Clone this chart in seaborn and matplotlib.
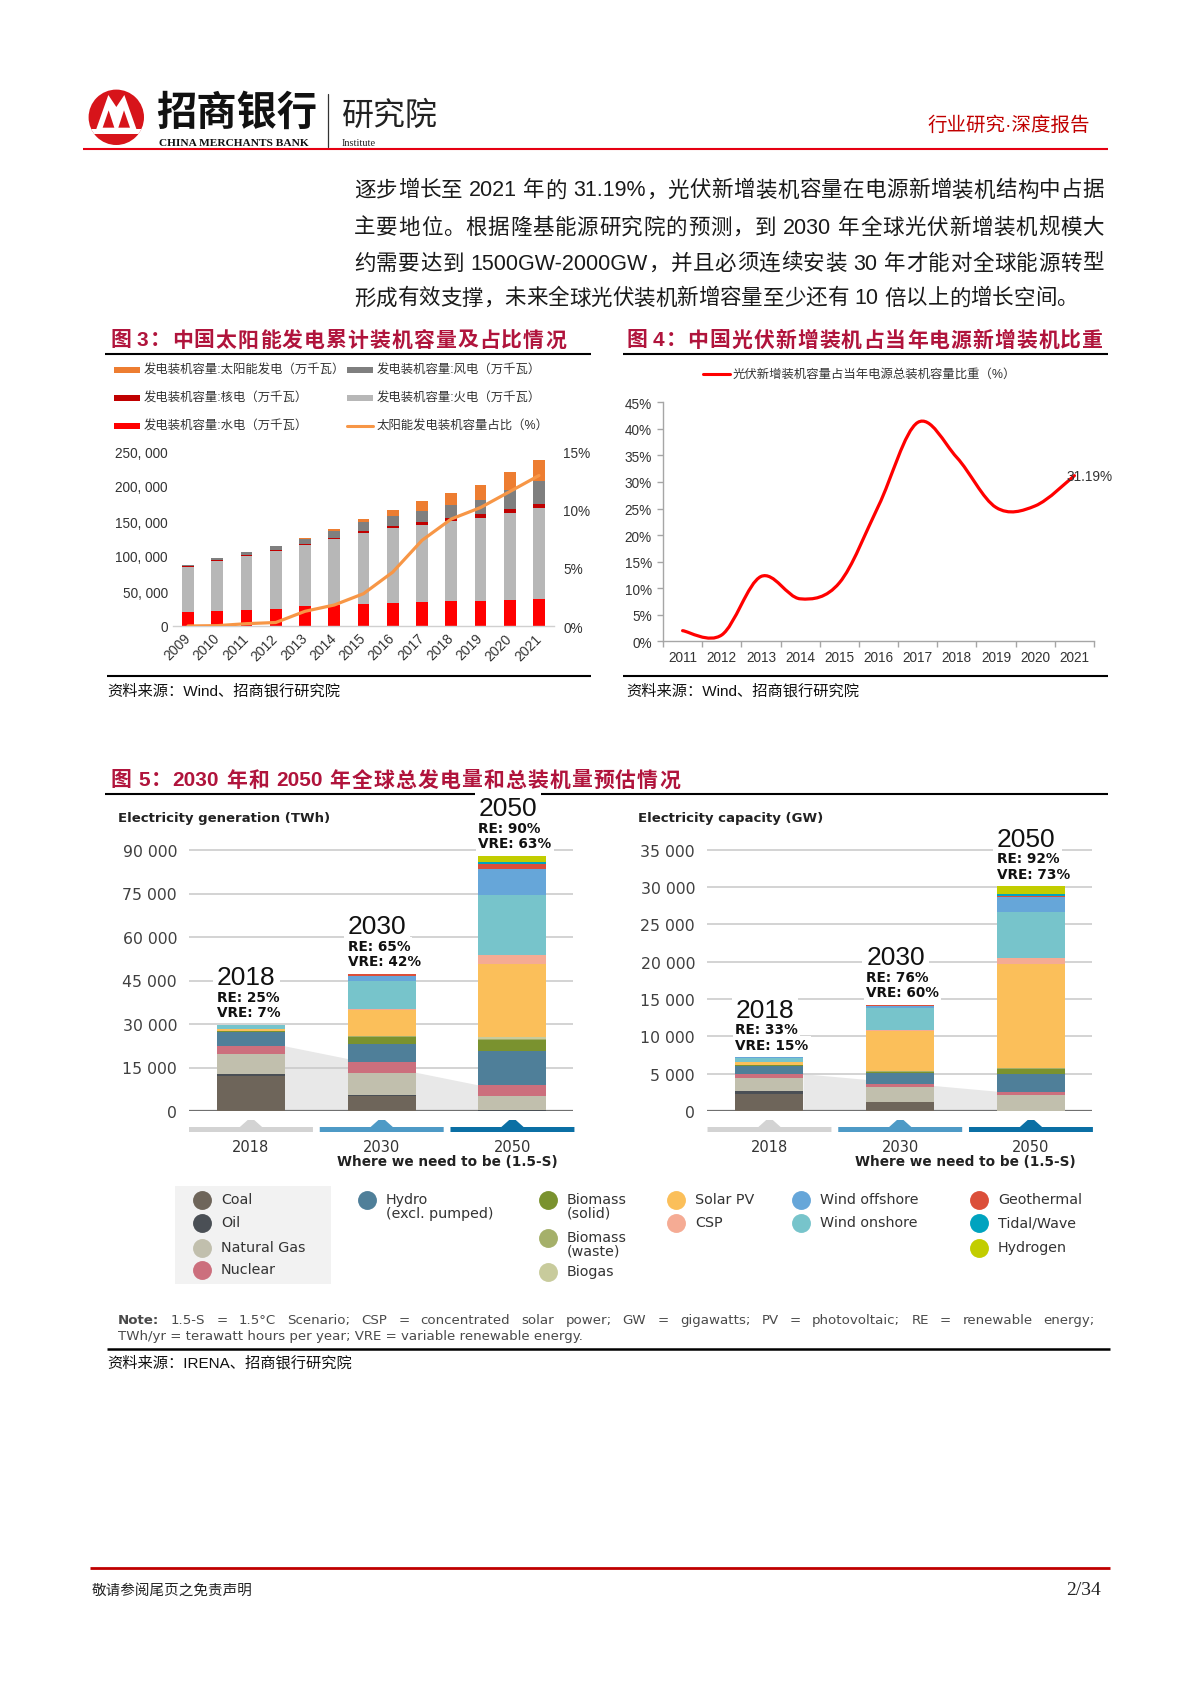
import numpy as np
import matplotlib
matplotlib.use("Agg")
import matplotlib.pyplot as plt
import seaborn as sns
from matplotlib.path import Path
from matplotlib.patches import PathPatch, Polygon, Circle, Rectangle
from matplotlib.transforms import blended_transform_factory

# ---------------- data: figure 3 (万千瓦, %) ----------------
years3 = [str(y) for y in range(2009, 2022)]
hydro3 = [19629, 21606, 23298, 24947, 28044, 30486, 31954, 33207, 34411, 35259, 35804, 37016, 39092]
thermal3 = [65108, 70967, 76834, 81968, 87009, 93232, 100554, 106094, 110495, 114408, 119055, 124517, 129678]
nuclear3 = [908, 1082, 1257, 1257, 1466, 2008, 2717, 3364, 3582, 4466, 4874, 4989, 5326]
wind3 = [1760, 2958, 4623, 6142, 7652, 9657, 13075, 14747, 16400, 18427, 20915, 28153, 32848]
solar3 = [3, 26, 212, 341, 1589, 2486, 4218, 7631, 13042, 17433, 20418, 25343, 30656]
share3 = [0.003, 0.03, 0.2, 0.3, 1.26, 1.8, 2.77, 4.62, 7.34, 9.17, 10.15, 11.52, 12.9]

# ---------------- data: figure 4 (%) ----------------
years4 = [str(y) for y in range(2011, 2022)]
share4 = [2.0, 1.2, 12.2, 8.0, 11.0, 25.5, 41.2, 34.6, 25.2, 25.5, 31.19]

# ---------------- data: figure 5 ----------------
years5 = ["2018", "2030", "2050"]
sources5 = ["Coal", "Oil", "Natural Gas", "Nuclear", "Hydro", "Biomass (solid)", "Biomass (waste)",
            "Biogas", "Solar PV", "CSP", "Wind onshore", "Wind offshore", "Geothermal",
            "Tidal/Wave", "Hydrogen"]
gen_2018 = [11950, 920, 6670, 2760, 4940, 300, 30, 20, 640, 15, 1260, 70, 90, 5, 0]
gen_2030 = [5200, 200, 7700, 3800, 6320, 2300, 200, 140, 9080, 350, 9540, 1610, 800, 60, 0]
gen_2050 = [0, 250, 4810, 3790, 11730, 3800, 600, 540, 25310, 2990, 20580, 8970, 1730, 690, 2180]
cap_2018 = [2250, 450, 1780, 450, 1120, 100, 20, 20, 420, 10, 540, 25, 15, 0, 0]
cap_2030 = [1150, 60, 2010, 350, 1520, 170, 35, 25, 5400, 90, 3040, 180, 180, 0, 0]
cap_2050 = [0, 30, 2070, 490, 2410, 590, 120, 100, 13850, 890, 6080, 2050, 180, 270, 980]
re_gen = ["RE: 25%", "RE: 65%", "RE: 90%"]
vre_gen = ["VRE: 7%", "VRE: 42%", "VRE: 63%"]
re_cap = ["RE: 33%", "RE: 76%", "RE: 92%"]
vre_cap = ["VRE: 15%", "VRE: 60%", "VRE: 73%"]
gen_ticks = [0, 15000, 30000, 45000, 60000, 75000, 90000]
cap_ticks = [0, 5000, 10000, 15000, 20000, 25000, 30000, 35000]

colors5 = ["#6e655a", "#4a4f55", "#c1bfad", "#cc6f7d", "#4f7f99", "#7a922f", "#a5b06a",
           "#c8cb9c", "#fbbf5a", "#f5ab94", "#77c4cb", "#66a6d9", "#db4f3a", "#00a3bf", "#c2cd00"]

body_lines = [
    "逐步增长至 2021 年的 31.19%，光伏新增装机容量在电源新增装机结构中占据",
    "主要地位。根据隆基能源研究院的预测，到 2030 年全球光伏新增装机规模大",
    "约需要达到 1500GW-2000GW，并且必须连续安装 30 年才能对全球能源转型",
    "形成有效支撑，未来全球光伏装机新增容量至少还有 10 倍以上的增长空间。",
]

# ---------------- page setup ----------------
sns.set_theme(style="white")
plt.rcParams["font.family"] = ["Liberation Sans", "Noto Sans CJK SC", "DejaVu Sans"]
plt.rcParams["axes.unicode_minus"] = False

W, H = 1189, 1683
fig = plt.figure(figsize=(W / 100, H / 100), dpi=100)
fig.patch.set_facecolor("white")

# overlay in pixel coordinates (y downwards) for page furniture
ov = fig.add_axes([0, 0, 1, 1])
ov.set_xlim(0, W)
ov.set_ylim(H, 0)
ov.axis("off")

renderer = fig.canvas.get_renderer()
TITLE_RED = "#b0143c"


def axes_px(x0, y0, x1, y1):
    a = fig.add_axes([x0 / W, 1 - y1 / H, (x1 - x0) / W, (y1 - y0) / H])
    a.set_facecolor("none")
    return a


def hline(x0, x1, y, color="black", lw=1.4):
    ov.plot([x0, x1], [y, y], color=color, lw=lw, solid_capstyle="butt")


def split_tokens(line):
    toks, buf, space = [], "", False
    for ch in line:
        if ch == " ":
            if buf:
                toks.append((buf, space))
                buf = ""
            space = True
        elif ord(ch) > 0x2E80:
            if buf:
                toks.append((buf, space))
                buf = ""
                space = False
            toks.append((ch, space))
            space = False
        else:
            buf += ch
    if buf:
        toks.append((buf, space))
    return toks


def place_line(line, x0, y, x1=None, space_px=6, bold=(), weight="normal", **kw):
    toks = split_tokens(line)
    arts, widths = [], []
    for t, _ in toks:
        a = ov.text(x0, y, t, ha="left", va="center",
                    fontweight="bold" if t in bold else weight, **kw)
        arts.append(a)
        widths.append(a.get_window_extent(renderer).width)
    n_sp = sum(1 for _, s in toks if s)
    natural = sum(widths) + n_sp * space_px
    gap = 0 if x1 is None or len(toks) < 2 else max(0, (x1 - x0 - natural) / (len(toks) - 1))
    x = x0
    for (t, s), a, w in zip(toks, arts, widths):
        if s:
            x += space_px
        a.set_x(x)
        x += w + gap


# ---------------- header ----------------
logo = Circle((116.3, 118.3), 27.7, fc="#d7141a", ec="none")
ov.add_patch(logo)
def lz(pts):
    return [(84 + px / 3, 86 + py / 3) for px, py in pts]
ov.add_patch(Polygon(lz([(34, 140), (73, 30), (97, 66), (121, 30), (160, 140)]), fc="white", ec="none"))
ov.add_patch(Polygon(lz([(56, 128), (74, 76), (91, 128)]), fc="#d7141a", ec="none"))
ov.add_patch(Polygon(lz([(103, 128), (120, 76), (138, 128)]), fc="#d7141a", ec="none"))
band = Rectangle((84, 86 + 132 / 3), 70, 4.5, fc="white", ec="none")
ov.add_patch(band)
band.set_clip_path(logo)

ov.text(156, 113, "招商银行", fontsize=29, fontweight="bold", color="#111111",
        family="Noto Sans CJK SC", ha="left", va="center")
ov.text(159, 143, "CHINA MERCHANTS BANK", fontsize=8.2, fontweight="bold", color="#111111",
        family="Liberation Serif", ha="left", va="center")
ov.plot([328, 328], [95, 148], color="#333333", lw=0.9)
ov.text(342, 116, "研究院", fontsize=23, color="#222222", family="Noto Sans CJK SC",
        ha="left", va="center")
ov.text(342, 143, "Institute", fontsize=7.5, color="#222222", family="Liberation Serif",
        ha="left", va="center")
ov.text(1090, 126, "行业研究·深度报告", fontsize=14, color="#c00000",
        ha="right", va="center")
hline(83, 1108, 150, color="#e60012", lw=1.5)

# ---------------- body text ----------------
body_y = [191, 228, 264, 299]
for i, (ln, yy) in enumerate(zip(body_lines, body_y)):
    place_line(ln, 354, yy, x1=1104 if i < 3 else None, space_px=6, fontsize=15.5, color="#1a1a1a")

# ---------------- figure 3 ----------------
place_line("图 3：中国太阳能发电累计装机容量及占比情况", 110, 341, x1=566, space_px=5,
           weight="bold", fontsize=15, color=TITLE_RED)
hline(105, 591, 355, lw=1.5)

leg3 = [
    (114, 371, "#ed7d31", "发电装机容量:太阳能发电（万千瓦）", "bar"),
    (114, 399, "#c00000", "发电装机容量:核电（万千瓦）", "bar"),
    (114, 427, "#ff0000", "发电装机容量:水电（万千瓦）", "bar"),
    (347, 371, "#7f7f7f", "发电装机容量:风电（万千瓦）", "bar"),
    (347, 399, "#b7b7b7", "发电装机容量:火电（万千瓦）", "bar"),
    (347, 427, "#f79646", "太阳能发电装机容量占比（%）", "line"),
]
for lx, ly, c, lab, kind in leg3:
    if kind == "bar":
        ov.add_patch(Rectangle((lx, ly - 3), 26, 6, fc=c, ec="none"))
    else:
        ov.plot([lx, lx + 26], [ly, ly], color=c, lw=2.2)
    ov.text(lx + 30, ly, lab, fontsize=8.9, color="#333333", ha="left", va="center")

ax3 = axes_px(173.4, 452, 553.6, 627)
x3 = np.arange(len(years3))
bottom = np.zeros(len(years3))
for vals, c in [(hydro3, "#ff0000"), (thermal3, "#b7b7b7"), (nuclear3, "#c00000"),
                (wind3, "#7f7f7f"), (solar3, "#ed7d31")]:
    ax3.bar(x3, vals, bottom=bottom, width=0.4, color=c, linewidth=0, zorder=2)
    bottom += np.array(vals)
ax3.set_xlim(-0.5, 12.5)
ax3.set_ylim(0, 250000)
ax3.set_yticks(range(0, 250001, 50000))
ax3.set_yticklabels(["0" if v == 0 else f"{v:,}".replace(",", ", ") for v in range(0, 250001, 50000)])
ax3.set_xticks(x3)
ax3.set_xticklabels(years3, rotation=45, ha="right", va="center", rotation_mode="anchor")
ax3.tick_params(axis="y", length=0, pad=4, labelsize=9.8, labelcolor="#333333")
ax3.tick_params(axis="x", length=0, pad=7, labelsize=10, labelcolor="#333333")
for s in ["top", "left", "right"]:
    ax3.spines[s].set_visible(False)
ax3.spines["bottom"].set_color("#d0d0d0")
ax3.spines["bottom"].set_linewidth(1)

ax3b = ax3.twinx()
ax3b.set_facecolor("none")
sns.lineplot(x=x3, y=share3, ax=ax3b, color="#f79646", lw=2.3, legend=False)
ax3b.set_xlim(-0.5, 12.5)
ax3b.set_ylim(0, 15)
ax3b.set_yticks([0, 5, 10, 15])
ax3b.set_yticklabels(["0%", "5%", "10%", "15%"])
ax3b.tick_params(axis="y", right=True, labelright=True, length=0, pad=7, labelsize=9.8,
                 labelcolor="#333333")
ax3b.set_ylabel("")
for s in ax3b.spines.values():
    s.set_visible(False)

hline(107, 591, 677, lw=1.5)
ov.text(107, 691, "资料来源：Wind、招商银行研究院", fontsize=11, color="#111111", ha="left", va="center")

# ---------------- figure 4 ----------------
place_line("图 4：中国光伏新增装机占当年电源新增装机比重", 626, 341, x1=1103, space_px=5,
           weight="bold", fontsize=15, color=TITLE_RED)
hline(623, 1108, 355, lw=1.5)
ov.plot([703, 730], [375, 375], color="#ff0000", lw=2.2)
ov.text(733, 375, "光伏新增装机容量占当年电源总装机容量比重（%）", fontsize=8.9, color="#333333",
        ha="left", va="center")

ax4 = axes_px(663, 403.3, 1094, 642.3)
x4 = np.arange(len(years4))
pts = np.column_stack([x4, share4]).astype(float)
ext = np.vstack([pts[0], pts, pts[-1]])
verts, codes = [tuple(pts[0])], [Path.MOVETO]
for i in range(len(pts) - 1):
    p0, p1, p2, p3 = ext[i], ext[i + 1], ext[i + 2], ext[i + 3]
    c1 = p1 + (p2 - p0) / 6
    c2 = p2 - (p3 - p1) / 6
    verts += [tuple(c1), tuple(c2), tuple(p2)]
    codes += [Path.CURVE4] * 3
ax4.add_patch(PathPatch(Path(verts, codes), fill=False, ec="#ff0000", lw=2.3, capstyle="round"))
ax4.set_xlim(-0.5, 10.5)
ax4.set_ylim(0, 45)
ax4.set_yticks(range(0, 46, 5))
ax4.set_yticklabels([f"{v}%" for v in range(0, 46, 5)])
ax4.set_xticks(x4)
ax4.set_xticklabels(years4)
ax4.set_xticks(np.arange(-0.5, 11, 1), minor=True)
ax4.tick_params(axis="y", left=True, direction="out", length=4, width=1, color="#a6a6a6",
                pad=4, labelsize=9.8, labelcolor="#333333")
ax4.tick_params(axis="x", which="major", bottom=True, length=0, pad=6, labelsize=9.8,
                labelcolor="#333333")
ax4.tick_params(axis="x", which="minor", bottom=True, direction="out", length=4, width=1,
                color="#a6a6a6")
for s in ["top", "right"]:
    ax4.spines[s].set_visible(False)
for s in ["left", "bottom"]:
    ax4.spines[s].set_color("#a6a6a6")
    ax4.spines[s].set_linewidth(1)
ax4.annotate(f"{share4[-1]:.2f}%", xy=(x4[-1], share4[-1]), xytext=(-8, 0),
             textcoords="offset pixels", ha="left", va="center", fontsize=9.8, color="#333333",
             annotation_clip=False)

hline(623, 1108, 677, lw=1.5)
ov.text(626, 691, "资料来源：Wind、招商银行研究院", fontsize=11, color="#111111", ha="left", va="center")

# ---------------- figure 5 ----------------
place_line("图 5：2030 年和 2050 年全球总发电量和总装机量预估情况", 110, 781, x1=680, space_px=6,
           weight="bold", fontsize=15, color=TITLE_RED)
hline(105, 1108, 795, lw=1.5)

F5 = "DejaVu Sans"
band_cols = ["#d3d3d3", "#4e9ac6", "#0b6fa4"]


def panel(x0, x1, xl, xr, ymax, data, ticks, re_lab, vre_lab, title, tx):
    ax = axes_px(x0, 800, x1, 1112)
    data = np.array(data, dtype=float)
    xs = np.arange(3)
    bottom = np.zeros(3)
    # grey wedge showing the shrinking non-renewable block
    nonre = data[:, :4].sum(axis=1)
    ax.add_patch(Polygon([(0.26, nonre[0]), (1.74, nonre[2]), (1.74, 0), (0.26, 0)],
                         fc="#e8e8e8", ec="none", zorder=0.3))
    for k, c in enumerate(colors5):
        ax.bar(xs, data[:, k], bottom=bottom, width=0.52, color=c, linewidth=0, zorder=3)
        bottom += data[:, k]
    ax.set_xlim(xl, xr)
    ax.set_ylim(0, ymax)
    ax.set_yticks(ticks)
    ax.set_yticklabels([f"{v:,}".replace(",", " ") for v in ticks], family=F5)
    ax.tick_params(axis="y", length=0, pad=8.6, labelsize=11.3, labelcolor="#404040")
    ax.set_xticks([])
    ax.set_axisbelow(True)
    ax.yaxis.grid(True, color="#c8c8c8", lw=1.1)
    ax.axhline(0, color="#707070", lw=1.6, zorder=2)
    for s in ax.spines.values():
        s.set_visible(False)
    for i in range(3):
        for txt, off, fs, fw, fam in [(years5[i], 47.5, 19, "normal", "Liberation Sans"),
                                      (re_lab[i], 28, 9.8, "bold", F5),
                                      (vre_lab[i], 12.5, 9.8, "bold", F5)]:
            ax.annotate(txt, xy=(i - 0.26, bottom[i]), xytext=(0, off), textcoords="offset pixels",
                        ha="left", va="center", fontsize=fs, fontweight=fw, family=fam,
                        color="#111111", annotation_clip=False, zorder=4,
                        bbox=dict(boxstyle="square,pad=0.15", fc="white", ec="none"))
    tr = blended_transform_factory(ax.transData, ov.transData)
    for i in range(3):
        c = band_cols[i]
        ax.add_patch(Polygon([(i - 0.474, 1128), (i - 0.085, 1128), (i - 0.025, 1121),
                              (i + 0.025, 1121), (i + 0.085, 1128), (i + 0.474, 1128),
                              (i + 0.474, 1133), (i - 0.474, 1133)],
                             fc=c, ec="none", transform=tr, clip_on=False))
        ax.text(i, 1148, years5[i], transform=tr, ha="center", va="center", fontsize=10.5,
                family=F5, color="#333333")
    ax.text(1.5, 1162, "Where we need to be (1.5-S)", transform=tr, ha="center", va="center",
            fontsize=9.8, fontweight="bold", family=F5, color="#222222")
    ov.text(tx, 819, title, fontsize=9.5, fontweight="bold", family=F5, color="#222222",
            ha="left", va="center")
    return ax


panel(189, 573, -0.474, 2.463, 90000 * 312 / 261, [gen_2018, gen_2030, gen_2050], gen_ticks,
      re_gen, vre_gen, "Electricity generation (TWh)", 118)
panel(707, 1092, -0.478, 2.467, 35000 * 312 / 261.3, [cap_2018, cap_2030, cap_2050], cap_ticks,
      re_cap, vre_cap, "Electricity capacity (GW)", 638)

# legend
ov.add_patch(Rectangle((175, 1187), 156, 98, fc="#f2f2f2", ec="none"))
leg5 = [
    (202, 1201, "Coal", 0), (202, 1224, "Oil", 1), (202, 1249, "Natural Gas", 2),
    (202, 1271, "Nuclear", 3), (367, 1201, "Hydro\n(excl. pumped)", 4),
    (548, 1201, "Biomass\n(solid)", 5), (548, 1239, "Biomass\n(waste)", 6), (548, 1273, "Biogas", 7),
    (676, 1201, "Solar PV", 8), (676, 1224, "CSP", 9),
    (801, 1201, "Wind offshore", 11), (801, 1224, "Wind onshore", 10),
    (979, 1201, "Geothermal", 12), (979, 1224, "Tidal/Wave", 13), (979, 1249, "Hydrogen", 14),
]
for cx, cy, lab, k in leg5:
    ov.scatter([cx], [cy], s=185, color=colors5[k], linewidths=0, zorder=3)
    ov.text(cx + 19, cy - 7.5, lab, fontsize=10.3, family=F5, color="#333333", ha="left",
            va="top", linespacing=0.95)

# note
place_line("Note: 1.5-S = 1.5°C Scenario; CSP = concentrated solar power; GW = gigawatts; "
           "PV = photovoltaic; RE = renewable energy;", 118, 1321, x1=1095, space_px=0,
           bold=("Note:",), family=F5, fontsize=9.6, color="#4a4a4a")
ov.text(118, 1337, "TWh/yr = terawatt hours per year; VRE = variable renewable energy.",
        fontsize=9.6, family=F5, color="#4a4a4a", ha="left", va="center")
hline(107, 1110, 1350, lw=1.8)
ov.text(107, 1363, "资料来源：IRENA、招商银行研究院", fontsize=11, color="#111111", ha="left",
        va="center")

# ---------------- footer ----------------
hline(90, 1110, 1569, color="#c00000", lw=2.0)
ov.text(92, 1591, "敬请参阅尾页之免责声明", fontsize=10.5, color="#222222", family="Noto Sans CJK SC",
        ha="left", va="center")
ov.text(1101, 1591, "2/34", fontsize=14, color="#222222", family="Liberation Serif",
        ha="right", va="center")

fig.savefig("out.png", dpi=100, facecolor="white")
